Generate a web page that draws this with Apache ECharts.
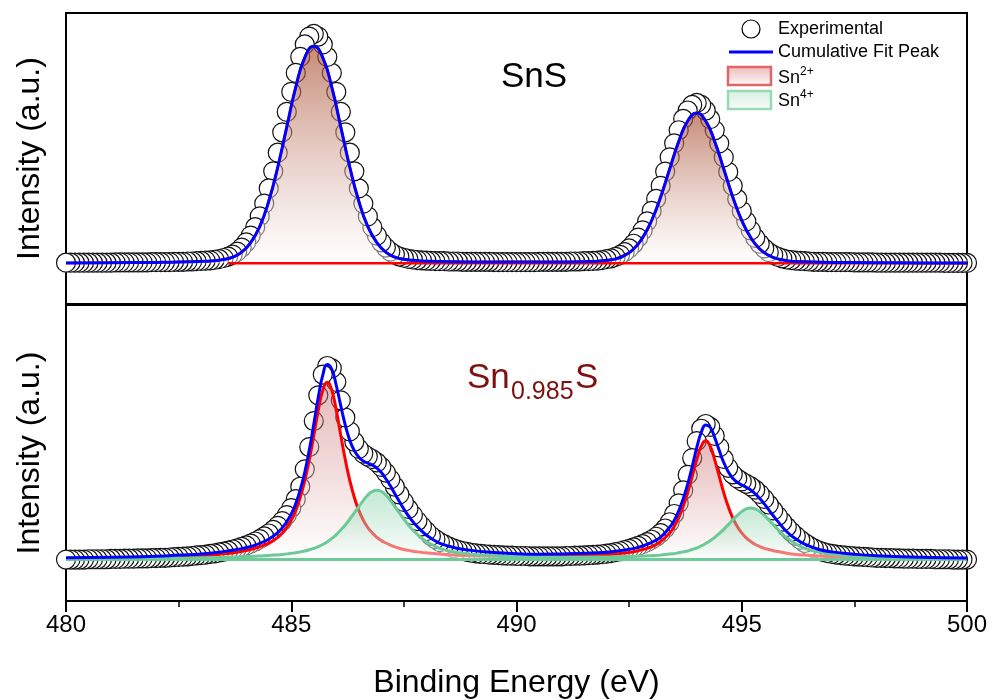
<!DOCTYPE html>
<html>
<head>
<meta charset="UTF-8">
<title>Sn 3d XPS</title>
<script src="https://cdn.jsdelivr.net/npm/echarts/dist/echarts.min.js"></script>
<style>
body{margin:0;background:#fff;}
#main{width:993px;height:700px;}
</style>
</head>
<body>
<div id="main"></div>
<script>
// measured spectra: 480.0 -> 500.0 eV, 0.1 eV step
var xStart = 480, xStep = 0.1;
var baseLevel = 14;

// SnS (top panel)
var expTop = [
  14.2,14.2,14.2,14.2,14.2,14.2,14.2,14.2,14.2,14.2,
  14.2,14.3,14.3,14.3,14.3,14.3,14.3,14.3,14.3,14.4,
  14.4,14.4,14.4,14.4,14.5,14.5,14.5,14.6,14.6,14.7,
  14.8,14.9,15.0,15.2,15.4,15.8,16.3,17.0,18.0,19.4,
  21.2,23.5,26.4,30.1,34.5,39.7,45.6,52.0,59.0,66.0,
  72.9,79.4,84.9,89.2,91.9,92.8,91.9,89.2,84.9,79.4,
  72.9,66.0,59.0,52.0,45.6,39.7,34.5,30.1,26.4,23.5,
  21.2,19.4,18.0,17.0,16.3,15.9,15.5,15.3,15.1,15.0,
  14.9,14.8,14.7,14.7,14.7,14.6,14.6,14.6,14.5,14.5,
  14.5,14.5,14.5,14.5,14.5,14.4,14.4,14.4,14.4,14.4,
  14.4,14.4,14.4,14.4,14.4,14.5,14.5,14.5,14.5,14.5,
  14.5,14.5,14.6,14.6,14.6,14.7,14.7,14.8,14.9,15.1,
  15.4,15.7,16.2,16.9,17.8,19.1,20.7,22.8,25.3,28.4,
  32.0,36.1,40.6,45.5,50.4,55.2,59.7,63.6,66.5,68.4,
  69.1,68.4,66.5,63.5,59.7,55.2,50.4,45.4,40.6,36.1,
  32.0,28.4,25.3,22.7,20.7,19.1,17.8,16.9,16.2,15.7,
  15.3,15.1,14.9,14.8,14.7,14.6,14.5,14.5,14.5,14.4,
  14.4,14.4,14.4,14.4,14.4,14.3,14.3,14.3,14.3,14.3,
  14.2,14.2,14.2,14.2,14.2,14.2,14.2,14.2,14.2,14.2,
  14.2,14.2,14.2,14.2,14.2,14.1,14.1,14.1,14.1,14.1,
  14.1
];
var fitTopX = [480,481,482,482.5,483.1,483.3,483.5,483.7,483.9,484.1,484.3,484.5,484.7,484.9,
  485.1,485.3,485.5,485.7,485.9,486.1,486.3,486.5,486.7,486.9,487.1,487.3,487.5,487.7,487.9,
  488.5,489.5,490.5,491,491.6,491.8,492,492.2,492.4,492.6,492.8,493,493.2,493.4,493.6,493.8,
  494,494.2,494.4,494.6,494.8,495,495.2,495.4,495.6,495.8,496,496.2,496.4,497,498,499,500];
var fitTopY = [14.1,14.2,14.3,14.4,14.7,14.9,15.3,16.1,17.8,21.1,26.6,35.3,47.0,60.8,
  74.5,84.7,88.6,84.7,74.5,60.8,47.0,35.3,26.6,21.1,17.8,16.1,15.4,15.0,14.8,
  14.5,14.4,14.4,14.4,14.6,14.7,15.0,15.5,16.7,18.9,22.8,28.7,36.8,46.4,55.8,62.9,
  65.6,62.9,55.8,46.4,36.8,28.7,22.8,18.9,16.7,15.5,14.9,14.6,14.5,14.3,14.2,14.1,14.1];
var baseSpanTop = [483.6, 500];

// Sn0.985S (bottom panel)
var expBot = [
  14.0,14.0,14.0,14.0,14.0,14.1,14.1,14.1,14.1,14.1,
  14.2,14.2,14.2,14.3,14.3,14.3,14.4,14.4,14.4,14.5,
  14.5,14.6,14.6,14.7,14.8,14.9,15.0,15.1,15.2,15.4,
  15.5,15.7,15.9,16.1,16.4,16.7,17.0,17.4,17.8,18.3,
  18.8,19.4,20.1,20.9,21.8,22.8,24.0,25.4,27.0,29.0,
  31.4,34.4,38.6,44.5,52.0,60.8,69.5,76.5,79.4,78.6,
  74.0,67.8,62.0,57.3,53.8,51.4,49.8,48.8,47.9,46.8,
  45.3,43.4,41.1,38.6,36.0,33.5,31.1,29.0,27.0,25.2,
  23.6,22.0,20.9,19.9,19.1,18.4,17.8,17.3,16.9,16.6,
  16.3,16.1,15.9,15.8,15.7,15.6,15.5,15.4,15.3,15.3,
  15.2,15.2,15.2,15.1,15.1,15.1,15.1,15.1,15.1,15.1,
  15.1,15.2,15.2,15.3,15.3,15.4,15.5,15.6,15.7,15.8,
  16.0,16.2,16.5,16.8,17.2,17.6,18.1,18.6,19.2,19.9,
  20.7,21.7,22.9,24.5,26.6,29.4,33.0,37.4,42.6,48.3,
  54.0,58.2,59.8,58.8,55.8,51.9,48.0,45.0,42.8,41.4,
  40.4,39.6,38.7,37.6,36.2,34.5,32.6,30.6,28.7,26.8,
  25.0,23.4,22.0,20.7,19.6,18.6,17.8,17.1,16.6,16.2,
  15.9,15.7,15.5,15.3,15.2,15.1,15.0,14.9,14.8,14.7,
  14.6,14.6,14.5,14.5,14.4,14.4,14.3,14.3,14.3,14.2,
  14.2,14.2,14.2,14.1,14.1,14.1,14.1,14.0,14.0,14.0,
  14.0
];
var fitBotX = [480,481,482,482.5,483,483.4,483.8,484.1,484.4,484.6,484.8,
  485.0,485.1,485.2,485.3,485.4,485.5,485.6,485.7,485.8,485.9,
  486.0,486.1,486.2,486.3,486.4,486.5,486.6,486.7,486.8,486.9,
  487.0,487.1,487.2,487.3,487.4,487.5,487.6,487.8,488.1,488.5,
  489.0,489.5,490.0,490.5,491.0,491.5,492.0,492.4,492.7,493.0,493.2,493.4,
  493.5,493.6,493.7,493.8,493.9,494.0,494.1,494.2,494.3,494.4,494.5,494.6,494.7,494.8,494.9,
  495.0,495.1,495.2,495.3,495.4,495.5,495.6,495.7,495.8,496.0,496.2,496.4,496.7,
  497.0,497.5,498.0,499.0,500.0];
var redBot = [14.4,14.5,14.8,15.0,15.3,15.8,16.5,17.4,18.9,20.4,23.0,
  27.3,30.6,35.0,40.7,47.7,55.9,64.4,71.2,73.9,71.2,
  64.4,55.9,47.7,40.7,35.0,30.6,27.3,24.8,23.0,21.5,
  20.4,19.6,18.9,18.3,17.8,17.4,17.1,16.6,16.1,15.6,
  15.3,15.1,15.0,15.0,15.1,15.3,15.6,16.2,17.0,18.4,20.1,23.0,
  25.2,28.1,31.9,36.6,42.1,47.7,52.3,54.1,52.3,47.7,42.1,36.6,31.9,28.1,25.2,
  23.0,21.3,20.1,19.1,18.4,17.8,17.4,17.0,16.7,16.1,15.7,15.5,15.2,
  15.0,14.7,14.6,14.4,14.3];
var greenBot = [14.2,14.3,14.4,14.5,14.6,14.7,14.9,15.0,15.3,15.5,15.7,
  16.1,16.3,16.6,16.9,17.3,17.8,18.4,19.1,20.0,21.1,
  22.4,24.0,25.7,27.7,29.8,31.9,34.0,35.8,37.0,37.4,
  37.0,35.8,34.0,31.9,29.8,27.7,25.7,22.5,19.2,16.9,
  15.8,15.3,15.0,14.9,14.8,14.8,14.9,15.0,15.1,15.3,15.5,15.9,
  16.0,16.3,16.6,16.9,17.4,17.9,18.6,19.4,20.4,21.5,22.8,24.2,25.8,27.4,28.9,
  30.2,31.1,31.4,31.1,30.2,28.9,27.4,25.8,24.2,21.4,19.3,17.8,16.5,
  15.7,15.1,14.8,14.5,14.3];
var blueBot = [14.6,14.8,15.1,15.5,15.9,16.5,17.4,18.4,20.1,21.9,24.7,
  29.4,32.9,37.6,43.5,51.0,59.7,68.8,76.3,79.9,78.3,
  72.8,65.9,59.4,54.3,50.8,48.6,47.3,46.6,45.9,44.9,
  43.4,41.3,38.9,36.2,33.6,31.1,28.8,25.1,21.2,18.5,
  17.1,16.4,16.0,15.8,15.9,16.1,16.5,17.2,18.1,19.8,21.6,24.9,
  27.2,30.4,34.5,39.5,45.4,51.7,56.9,59.5,58.7,55.2,50.9,46.8,43.7,41.5,40.1,
  39.2,38.4,37.5,36.2,34.6,32.8,30.8,28.8,26.9,23.4,21.0,19.2,17.5,
  16.6,15.8,15.3,14.8,14.5];
var baseSpanBot = [480, 500];
var splitAt = 490;

var FONT = 'Arial, "Liberation Sans", sans-serif';

function pairs(xs, ys){
  return ys.map(function(v, i){ return [xs[i], v]; });
}
function stepPairs(ys){
  return ys.map(function(v, i){ return [+(xStart + i * xStep).toFixed(1), v]; });
}
function grad(c0, c1){
  return new echarts.graphic.LinearGradient(0, 0, 0, 1, [
    {offset: 0, color: c0}, {offset: 1, color: c1}
  ]);
}

var topFit = pairs(fitTopX, fitTopY);
var botRed = pairs(fitBotX, redBot);
var botGreen = pairs(fitBotX, greenBot);
var lowHalf = function(p){ return p[0] <= splitAt + 0.5; };
var highHalf = function(p){ return p[0] >= splitAt - 0.5; };

function expSeries(data, idx){
  return {
    type: 'scatter', xAxisIndex: idx, yAxisIndex: idx,
    data: data.reverse(), symbol: 'circle', symbolSize: 19, silent: true,
    itemStyle: {color: '#fff', borderColor: '#111', borderWidth: 1.2, opacity: 1},
    z: 1
  };
}
function curve(data, idx, color, width, fill, z){
  var s = {
    type: 'line', xAxisIndex: idx, yAxisIndex: idx, data: data,
    smooth: 0.5, showSymbol: false, symbol: 'none', silent: true,
    lineStyle: {color: color, width: width, join: 'round'}, z: z
  };
  if (fill) s.areaStyle = {color: fill, origin: baseLevel, opacity: 1};
  return s;
}

var chart = echarts.init(document.getElementById('main'));
chart.setOption({
  animation: false,
  backgroundColor: '#fff',
  textStyle: {fontFamily: FONT},
  grid: [
    {left: 66, top: 13, width: 901, height: 291, show: true, borderColor: '#000', borderWidth: 2, outerBoundsMode: 'none'},
    {left: 66, top: 305, width: 901, height: 296, show: true, borderColor: '#000', borderWidth: 2, outerBoundsMode: 'none'}
  ],
  xAxis: [
    {gridIndex: 0, type: 'value', min: 480, max: 500, interval: 5, show: false},
    {gridIndex: 1, type: 'value', min: 480, max: 500, interval: 5,
      axisLine: {show: true, onZero: false, lineStyle: {color: '#000', width: 2}},
      axisTick: {show: true, inside: false, length: 11, lineStyle: {color: '#000', width: 2}},
      minorTick: {show: true, splitNumber: 2, length: 6, lineStyle: {color: '#000', width: 1.5}},
      axisLabel: {fontSize: 24, color: '#000', margin: 12, fontFamily: FONT, showMinLabel: true, showMaxLabel: true},
      splitLine: {show: false}, minorSplitLine: {show: false},
      name: 'Binding Energy (eV)', nameLocation: 'middle', nameGap: 66,
      nameTextStyle: {fontSize: 32, color: '#000', fontFamily: FONT}}
  ],
  yAxis: [0, 1].map(function(i){
    return {gridIndex: i, type: 'value', min: 0, max: 100,
      name: 'Intensity (a.u.)', nameLocation: 'middle', nameRotate: 90, nameGap: 20,
      nameTextStyle: {fontSize: 32, color: '#000', fontFamily: FONT},
      axisLine: {show: false}, axisTick: {show: false}, axisLabel: {show: false}, splitLine: {show: false}};
  }),
  series: [
    expSeries(stepPairs(expTop), 0),
    curve(topFit.filter(lowHalf), 0, '#ff0000', 2.5, grad('rgba(165,70,40,0.62)', 'rgba(255,255,255,0.45)'), 2),
    curve(topFit.filter(highHalf), 0, '#ff0000', 2.5, grad('rgba(165,70,40,0.62)', 'rgba(255,255,255,0.45)'), 2),
    curve([[baseSpanTop[0], baseLevel], [baseSpanTop[1], baseLevel]], 0, '#ff0000', 2.5, null, 3),
    curve(topFit, 0, '#0000ff', 3, null, 4),

    expSeries(stepPairs(expBot), 1),
    curve(botRed.filter(lowHalf), 1, '#ff0000', 3, grad('rgba(200,100,100,0.45)', 'rgba(255,255,255,0.45)'), 2),
    curve(botRed.filter(highHalf), 1, '#ff0000', 3, grad('rgba(200,100,100,0.45)', 'rgba(255,255,255,0.45)'), 2),
    curve(botGreen.filter(lowHalf), 1, '#6cc998', 3, grad('rgba(110,200,150,0.4)', 'rgba(255,255,255,0.5)'), 3),
    curve(botGreen.filter(highHalf), 1, '#6cc998', 3, grad('rgba(110,200,150,0.4)', 'rgba(255,255,255,0.5)'), 3),
    curve([[baseSpanBot[0], baseLevel], [baseSpanBot[1], baseLevel]], 1, '#6cc998', 3, null, 3),
    curve(pairs(fitBotX, blueBot), 1, '#0000ff', 3, null, 4)
  ],
  graphic: [
    {type: 'text', x: 501, y: 77, style: {text: 'SnS', fontSize: 35, fontFamily: FONT, fill: '#000', align: 'left', verticalAlign: 'middle'}},
    {type: 'text', x: 467, y: 378, style: {text: 'Sn', fontSize: 35, fontFamily: FONT, fill: '#7f1010', align: 'left', verticalAlign: 'middle'}},
    {type: 'text', x: 511, y: 392, style: {text: '0.985', fontSize: 25, fontFamily: FONT, fill: '#7f1010', align: 'left', verticalAlign: 'middle'}},
    {type: 'text', x: 575, y: 378, style: {text: 'S', fontSize: 35, fontFamily: FONT, fill: '#7f1010', align: 'left', verticalAlign: 'middle'}},

    {type: 'circle', shape: {cx: 751, cy: 29, r: 9}, style: {fill: '#fff', stroke: '#000', lineWidth: 1.2}},
    {type: 'line', shape: {x1: 729, y1: 52, x2: 773, y2: 52}, style: {stroke: '#0000ff', lineWidth: 3}},
    {type: 'rect', shape: {x: 728, y: 67, width: 43, height: 18}, style: {fill: grad('rgba(220,120,120,0.5)', 'rgba(255,255,255,0.6)'), stroke: '#e06666', lineWidth: 2.5}},
    {type: 'rect', shape: {x: 728, y: 91, width: 43, height: 18}, style: {fill: grad('rgba(150,215,180,0.35)', 'rgba(255,255,255,0.6)'), stroke: '#99d9b6', lineWidth: 2.5}},
    {type: 'text', x: 778, y: 29, style: {text: 'Experimental', fontSize: 18, fontFamily: FONT, fill: '#000', align: 'left', verticalAlign: 'middle'}},
    {type: 'text', x: 778, y: 52, style: {text: 'Cumulative Fit Peak', fontSize: 18, fontFamily: FONT, fill: '#000', align: 'left', verticalAlign: 'middle'}},
    {type: 'text', x: 778, y: 78, style: {text: 'Sn', fontSize: 18, fontFamily: FONT, fill: '#000', align: 'left', verticalAlign: 'middle'}},
    {type: 'text', x: 800, y: 72, style: {text: '2+', fontSize: 12, fontFamily: FONT, fill: '#000', align: 'left', verticalAlign: 'middle'}},
    {type: 'text', x: 778, y: 101, style: {text: 'Sn', fontSize: 18, fontFamily: FONT, fill: '#000', align: 'left', verticalAlign: 'middle'}},
    {type: 'text', x: 800, y: 95, style: {text: '4+', fontSize: 12, fontFamily: FONT, fill: '#000', align: 'left', verticalAlign: 'middle'}}
  ]
});
</script>
</body>
</html>
